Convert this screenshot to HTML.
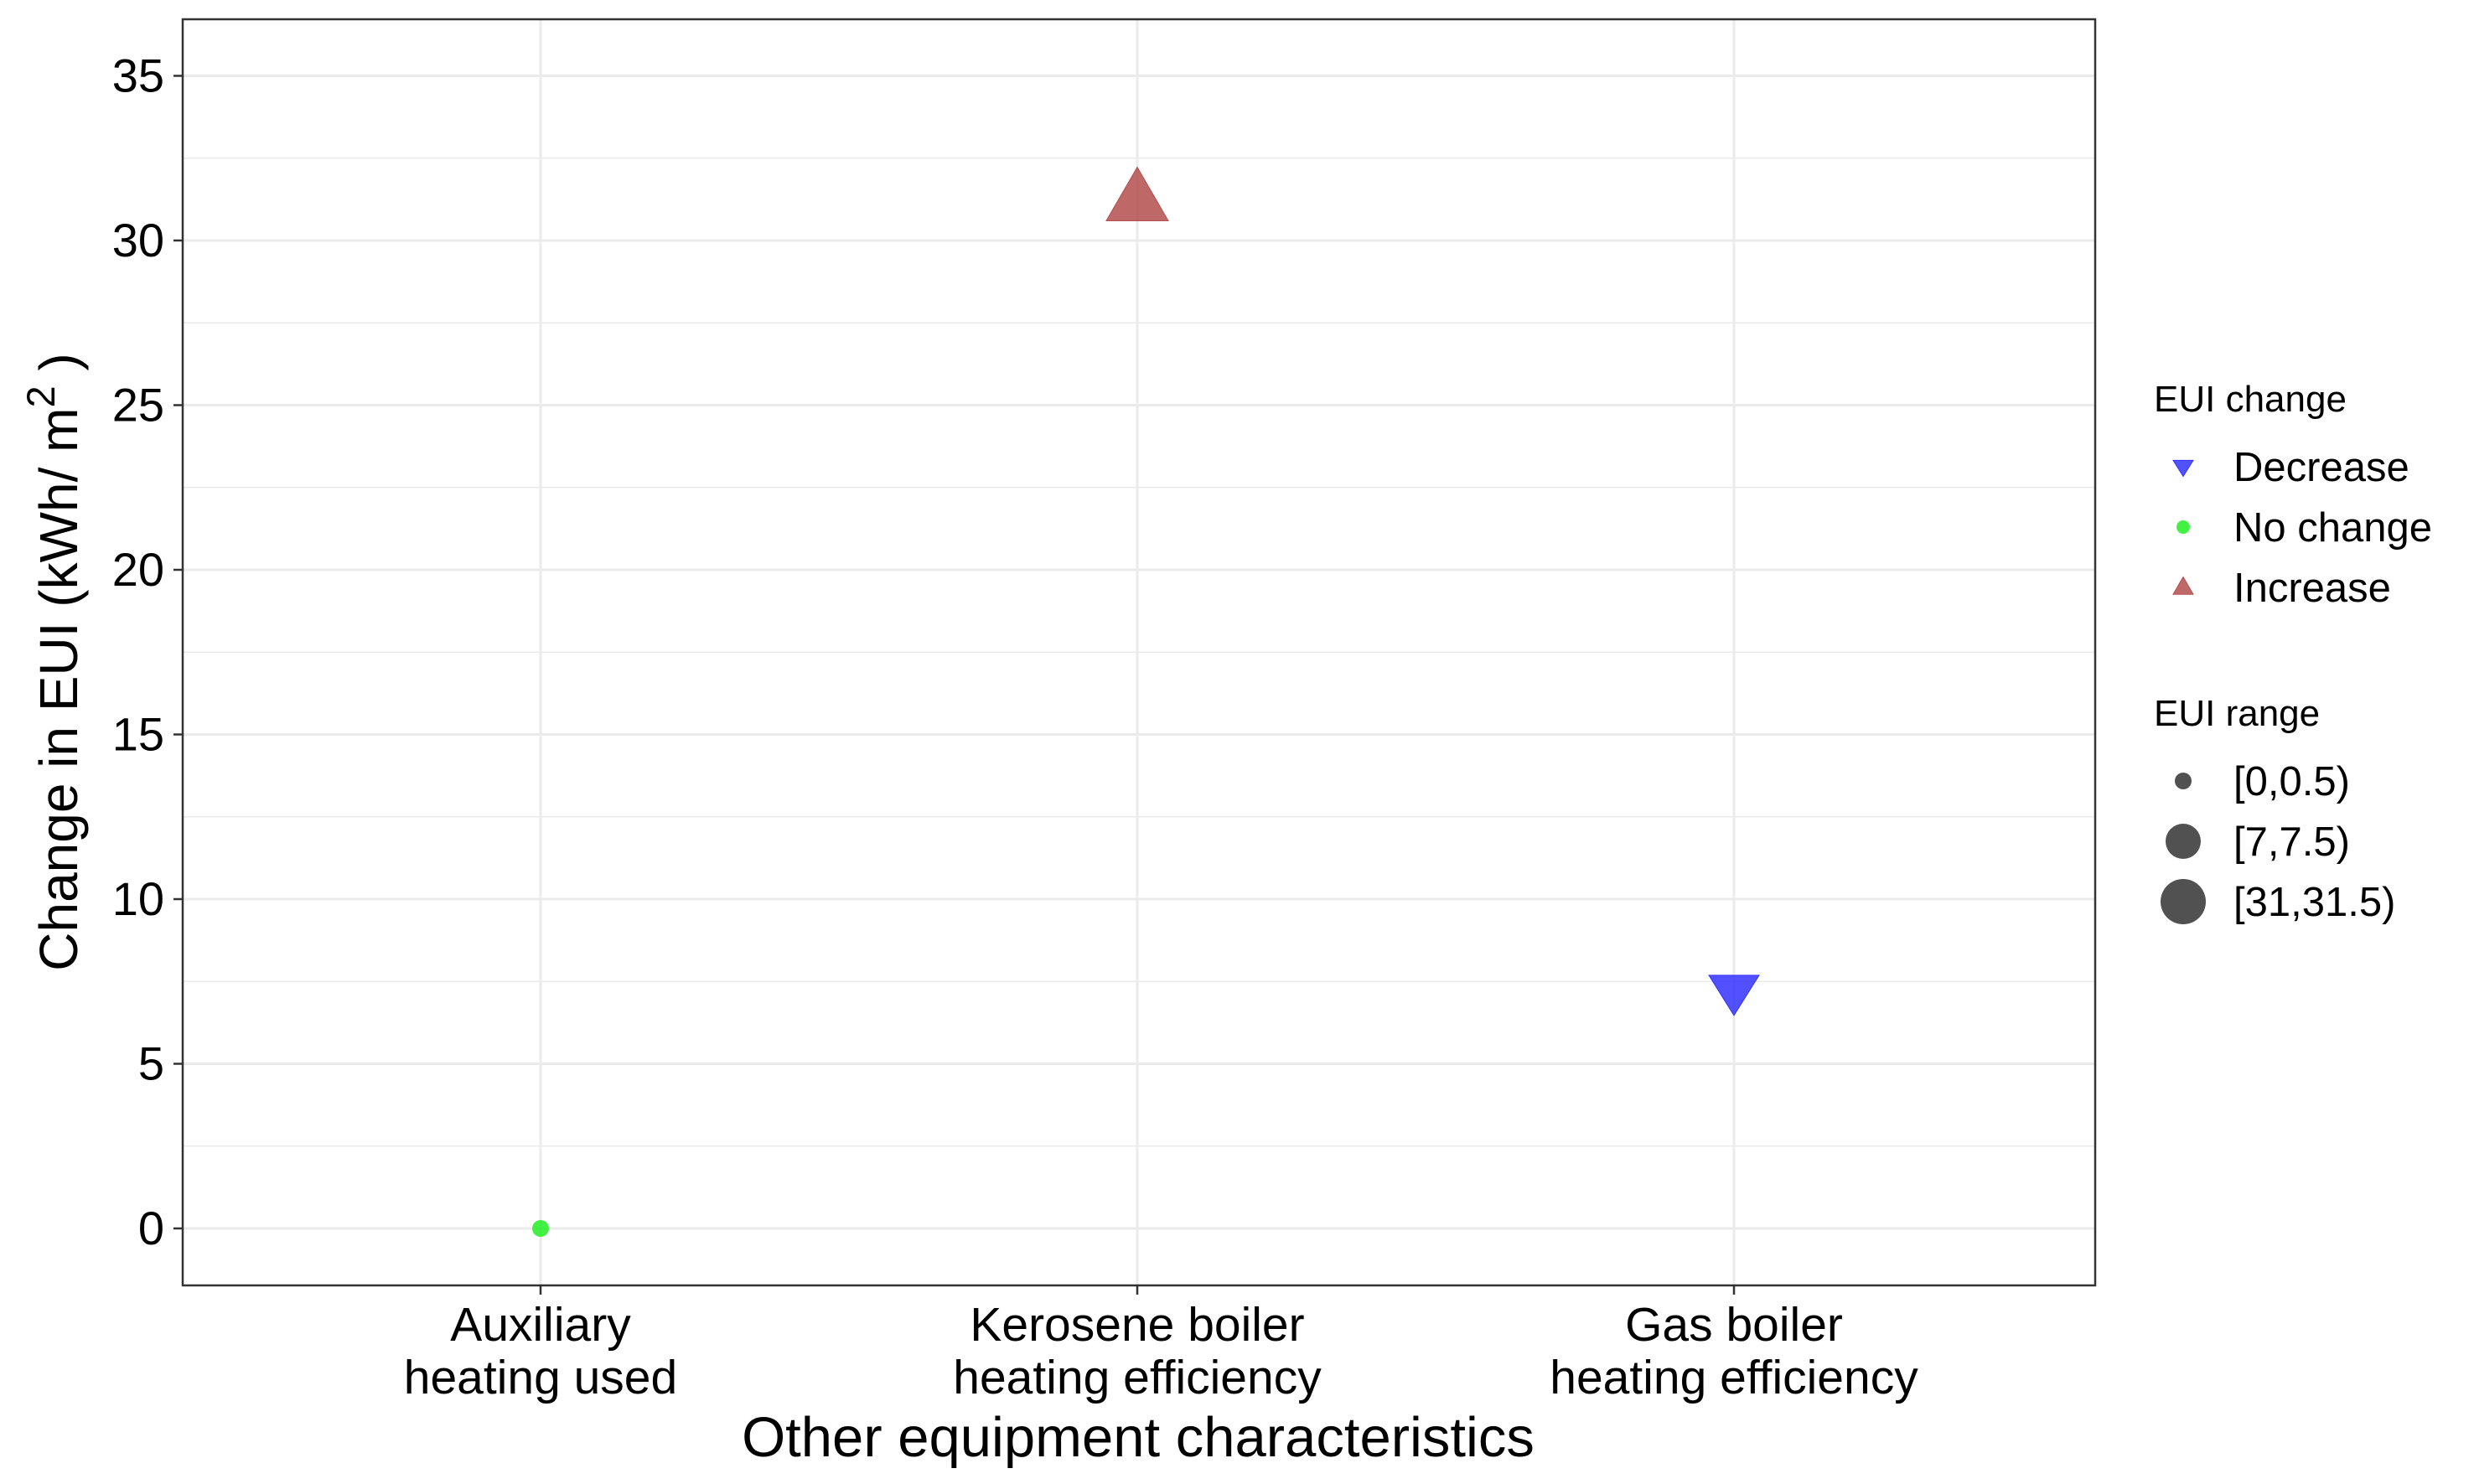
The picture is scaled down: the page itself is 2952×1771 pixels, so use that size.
<!DOCTYPE html>
<html><head><meta charset="utf-8"><style>
html,body{margin:0;padding:0;background:#fff;}
svg{display:block;font-family:"Liberation Sans",Arial,sans-serif;}
</style></head><body>
<svg id="chart" width="2952" height="1771" viewBox="0 0 2952 1771" xmlns="http://www.w3.org/2000/svg">
<rect x="0" y="0" width="2952" height="1771" fill="#fff"/>
<g id="grid"></g>
<g id="marks"></g>
<rect x="218" y="23" width="2282" height="1511" fill="none" stroke="#333" stroke-width="2.5"/>
<g id="axes"></g>
<text x="1358" y="1738" font-size="67" text-anchor="middle">Other equipment characteristics</text>
<text transform="translate(92,790) rotate(-90)" font-size="64" text-anchor="middle">Change in EUI (kWh/ m<tspan font-size="47" dy="-27">2</tspan><tspan dy="27"> )</tspan></text>
<g id="legend">
<text x="2570" y="491" font-size="44">EUI change</text>
<text x="2570" y="866" font-size="44">EUI range</text>
</g>
</svg>
<script>
const categories = ["Auxiliary|heating used", "Kerosene boiler|heating efficiency", "Gas boiler|heating efficiency"];
const values = [0, 31.25, 7.2];
const changeTypes = ["No change", "Increase", "Decrease"];
const rangeIndex = [0, 2, 1];
const yTicks = [0, 5, 10, 15, 20, 25, 30, 35];
const legendChange = ["Decrease", "No change", "Increase"];
const legendRange = ["[0,0.5)", "[7,7.5)", "[31,31.5)"];

const NS = "http://www.w3.org/2000/svg";
const L = 218, R = 2500, T = 23, B = 1534;
const y = v => 1466 - v * 39.3;
const x = i => 645 + i * 712;
const colors = {"Decrease": "#3333ff", "No change": "#22ee22", "Increase": "#b44e4e"};
const sizeR = [10, 30, 37];
function mk(tag, attrs, parent) { const e = document.createElementNS(NS, tag); for (const k in attrs) e.setAttribute(k, attrs[k]); parent.appendChild(e); return e; }
const grid = document.getElementById('grid'), axes = document.getElementById('axes'), marks = document.getElementById('marks'), legend = document.getElementById('legend');

for (let v = -2.5; v <= 37.5; v += 2.5) {
  const yy = y(v); if (yy < T || yy > B) continue;
  const major = yTicks.includes(v);
  const g = mk('line', {x1: L, x2: R, y1: yy, y2: yy, stroke: '#ebebeb', 'stroke-width': major ? 3 : 1.5}, grid);
  
  
}
categories.forEach((c, i) => {
  const g = mk('line', {x1: x(i), x2: x(i), y1: T, y2: B, stroke: '#ebebeb', 'stroke-width': 3}, grid);
  
  
  const t = mk('line', {x1: x(i), x2: x(i), y1: B, y2: B + 11, stroke: '#333', 'stroke-width': 2.5}, axes);
  
  
  c.split('|').forEach((line, j) => {
    const tx = mk('text', {x: x(i), y: 1600 + j * 63, 'font-size': 57, 'text-anchor': 'middle', fill: '#000'}, axes);
    tx.textContent = line;
    
    
  });
});
yTicks.forEach(v => {
  const t = mk('line', {x1: L - 11, x2: L, y1: y(v), y2: y(v), stroke: '#333', 'stroke-width': 2.5}, axes);
  
  
  const tx = mk('text', {x: L - 22, y: y(v) + 19, 'font-size': 56, 'text-anchor': 'end', fill: '#000'}, axes);
  tx.textContent = v;
  
  
});

function shape(type, cx, cy, r, parent, fill) {
  let e;
  if (type === 'Increase') {
    const h = r * 1.73, w = r;
    e = mk('polygon', {points: `${cx},${cy - h * 0.6} ${cx - w},${cy + h * 0.4} ${cx + w},${cy + h * 0.4}`, fill: fill, 'fill-opacity': 0.85, stroke: fill, 'stroke-width': 1}, parent);
  } else if (type === 'Decrease') {
    const h = r * 1.6, w = r;
    e = mk('polygon', {points: `${cx},${cy + h * 0.6} ${cx - w},${cy - h * 0.4} ${cx + w},${cy - h * 0.4}`, fill: fill, 'fill-opacity': 0.85, stroke: fill, 'stroke-width': 1}, parent);
  } else {
    e = mk('circle', {cx: cx, cy: cy, r: r, fill: fill, 'fill-opacity': 0.85}, parent);
  }
  return e;
}
values.forEach((v, i) => {
  const type = changeTypes[i];
  const e = shape(type, x(i), y(v), sizeR[rangeIndex[i]], marks, colors[type]);
  
  
});

legendChange.forEach((lab, i) => {
  const cy = 557 + i * 72;
  const k = shape(lab, 2605, cy, lab === 'No change' ? 8 : 12, legend, colors[lab]);
  
  
  const t = mk('text', {x: 2665, y: cy + 17, 'font-size': 49}, legend);
  t.textContent = lab;
  
  
});
const keyR = [10, 21, 27];
legendRange.forEach((lab, i) => {
  const cy = 932 + i * 72;
  const c = mk('circle', {cx: 2605, cy: cy, r: keyR[i], fill: '#333', 'fill-opacity': 0.85}, legend);
  
  
  const t = mk('text', {x: 2665, y: cy + 17, 'font-size': 49}, legend);
  t.textContent = lab;
  
  
});
</script>
</body></html>
